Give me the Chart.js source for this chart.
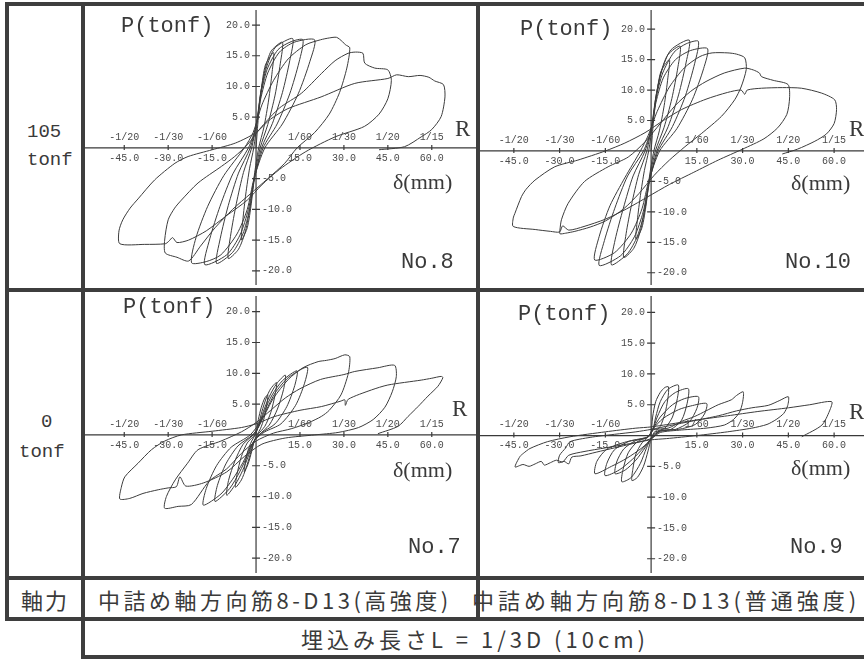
<!DOCTYPE html>
<html lang="ja">
<head>
<meta charset="utf-8">
<title>P-δ 履歴曲線</title>
<script src="https://cdn.jsdelivr.net/npm/chart.js"></script>
<style>
body { margin: 0; background: #fff; width: 864px; height: 659px; position: relative; overflow: hidden; }
.ln { position: absolute; background: #3e3e3e; }
.t { position: absolute; white-space: nowrap; line-height: 1; color: #3a3a3a; transform: translateY(-50%); }
.mono { font-family: "Liberation Mono", monospace; }
.serif { font-family: "Liberation Serif", serif; }
.jp { font-family: "Noto Sans CJK JP", sans-serif; font-size: 22px; letter-spacing: 4px; }
canvas { position: absolute; }
</style>
</head>
<body>

<!-- table frame -->
<div class="ln" style="left:5px;top:2px;width:859px;height:4px"></div>
<div class="ln" style="left:5px;top:288px;width:859px;height:4px"></div>
<div class="ln" style="left:5px;top:576px;width:859px;height:4px"></div>
<div class="ln" style="left:5px;top:617px;width:859px;height:4px"></div>
<div class="ln" style="left:81px;top:655px;width:783px;height:4px"></div>
<div class="ln" style="left:5px;top:2px;width:4px;height:619px"></div>
<div class="ln" style="left:81px;top:2px;width:4px;height:657px"></div>
<div class="ln" style="left:476px;top:2px;width:4px;height:619px"></div>

<canvas id="c8" width="391" height="282" style="left:85px;top:6px"></canvas>
<canvas id="c10" width="384" height="282" style="left:480px;top:6px"></canvas>
<canvas id="c7" width="391" height="284" style="left:85px;top:292px"></canvas>
<canvas id="c9" width="384" height="284" style="left:480px;top:292px"></canvas>

<div class="t mono" style="left:27px;top:132px;font-size:19px">105</div>
<div class="t mono" style="left:27px;top:160px;font-size:19px">tonf</div>
<div class="t mono" style="left:41px;top:422px;font-size:19px">0</div>
<div class="t mono" style="left:19px;top:452px;font-size:19px">tonf</div>

<div class="t mono" style="left:121px;top:27px;font-size:22px">P(tonf)</div>
<div class="t mono" style="left:520px;top:30px;font-size:22px">P(tonf)</div>
<div class="t mono" style="left:123px;top:308px;font-size:22px">P(tonf)</div>
<div class="t mono" style="left:518px;top:315px;font-size:22px">P(tonf)</div>

<div class="t serif" style="left:455px;top:128px;font-size:23px">R</div>
<div class="t serif" style="left:849px;top:128px;font-size:23px">R</div>
<div class="t serif" style="left:452px;top:408px;font-size:23px">R</div>
<div class="t serif" style="left:849px;top:411px;font-size:23px">R</div>

<div class="t serif" style="left:393px;top:182px;font-size:22px">δ(mm)</div>
<div class="t serif" style="left:791px;top:183px;font-size:22px">δ(mm)</div>
<div class="t serif" style="left:393px;top:470px;font-size:22px">δ(mm)</div>
<div class="t serif" style="left:791px;top:468px;font-size:22px">δ(mm)</div>

<div class="t mono" style="left:401px;top:263px;font-size:22px">No.8</div>
<div class="t mono" style="left:785px;top:263px;font-size:22px">No.10</div>
<div class="t mono" style="left:408px;top:548px;font-size:22px">No.7</div>
<div class="t mono" style="left:790px;top:548px;font-size:22px">No.9</div>

<div class="t jp" style="left:9px;width:72px;text-align:center;top:599px;letter-spacing:2px">軸力</div>
<div class="t jp" style="left:98px;top:599px;letter-spacing:3.5px">中詰め軸方向筋8-D13(高強度)</div>
<div class="t jp" style="left:472px;top:599px">中詰め軸方向筋8-D13(普通強度)</div>
<div class="t jp" style="left:301px;top:638px">埋込み長さL = 1/3D (10cm)</div>

<script>
// axis ticks
const dispTicks = [-45, -30, -15, 15, 30, 45, 60];
const driftLabels = ['-1/20', '-1/30', '-1/60', '1/60', '1/30', '1/20', '1/15'];
const loadTicks = [20, 15, 10, 5, -5, -10, -15, -20];

// No.8 : 105 tonf, 高強度  [δ(mm), P(tonf)]
const no8Curve = [
  [0,0],[0.8,5],[1.8,9.5],[3.2,13.5],[6,15.5],[5.5,12.4],[4.3,7.8],[2.7,3.4],[0.9,0],[-0.6,-4.5],[-1.6,-9],[-3,-13],[-5,-15],[-4.5,-11.7],[-3.5,-7.5],[-2.2,-3.3],[-0.8,0],
  [0.5,4.5],[1.6,9],[3.2,13],[5.2,15.8],[9,17.2],[8.3,13.8],[6.5,8.6],[4,3.8],[1.4,0],[-0.6,-4.8],[-2,-9.5],[-3.6,-13.5],[-6,-16.5],[-9.5,-18],[-8.6,-14],[-6.7,-9],[-4.3,-4],[-1.5,0],
  [0.3,4.5],[1.6,9],[3.5,13],[6.5,16.3],[12.5,17.8],[11.5,14.2],[9,9],[5.6,4],[1.9,0],[-0.5,-5],[-2.2,-10],[-4.5,-14],[-8,-17],[-13.5,-18.8],[-12.2,-14.7],[-9.5,-9.4],[-6,-4.1],[-2,0],
  [0.2,4],[1.6,8.6],[3.8,12.8],[7.5,16],[12,17.3],[16,17.6],[14.7,14],[11.5,8.8],[7.2,3.9],[2.4,0],[-0.6,-5],[-2.6,-10],[-5.5,-14.2],[-10,-17.4],[-17.5,-19],[-15.8,-14.8],[-12.3,-9.5],[-7.9,-4.2],[-2.6,0],
  [0,3.5],[1.6,8],[4,12.2],[8,15.6],[13,17.2],[20,17.6],[18.4,14.1],[14.4,8.8],[9,3.9],[3,0],[-0.7,-5],[-3,-10],[-6.5,-14],[-12,-17.4],[-17,-18.5],[-22,-18.7],[-20.5,-14.6],[-16.5,-9.5],[-11,-4.5],[-4,0],
  [-1,2.5],[2,7],[6,11],[11,14.5],[17,16.8],[22,17.6],[25,17.9],[27.5,18],[29.5,17.3],[30.5,16.8],[32,16.3],
  [31,13],[28.5,9],[25,5.5],[20,2.5],[14,0],[9.8,-2.5],[4,-5],[-2,-7.5],[-8,-10],[-14,-13],[-19,-16],[-23,-18.4],[-27,-17.8],[-31,-17.1],
  [-31.2,-15],[-30,-11.7],[-27.8,-9.8],[-25.5,-8.5],[-19.8,-5.7],[-11.8,-3],[-7.3,-1.4],[-3,0.5],[2,3.5],[8,6.5],[15.5,8.9],[22.3,12.1],[27,14.2],[31.4,15.4],[34,15.6],[36.5,15.4],[37.1,13.8],[40.5,13],[45,12.7],[46.2,11],
  [45,8],[42,5.5],[37,3.5],[27,1.8],[17,-0.6],[8,-3.5],[2,-6],[-3,-8.5],[-10,-11],[-17,-13.5],[-23,-15],[-27,-15.4],[-28.5,-14.6],[-29.8,-15.2],[-31,-15.6],[-38,-15.7],[-46.5,-15.6],
  [-46.8,-13.5],[-45.5,-11.7],[-43,-9.8],[-40.3,-8.3],[-34.6,-5.2],[-27.7,-2.5],[-23.2,-1.4],[-15,-0.3],[-7,0.8],[0,2.5],[5,4.7],[10.9,6.4],[22.2,8.3],[33.7,10.5],[45,11.3],[48,11.9],[52,11.6],[56,11.8],[59,11.5],[61,10.9],[64,10.3],[64.5,8.3],
  [63.2,5.1],[60,3],[56.4,1.8],[50.7,0.2],[42,-0.3]
];

// No.10 : 105 tonf, 普通強度
const no10Curve = [
  [0,0],[0.8,5],[1.8,9.2],[3.2,13],[6,15],[5.5,12],[4.3,7.5],[2.7,3.3],[0.9,0],[-0.6,-4.4],[-1.6,-8.7],[-3,-12.6],[-5,-14.5],[-4.5,-11.3],[-3.5,-7.3],[-2.2,-3.2],[-0.8,0],
  [0.5,4.5],[1.6,9],[3.3,13],[5.5,15.8],[9.5,17.2],[8.8,13.8],[6.8,8.6],[4.2,3.8],[1.4,0],[-0.6,-4.7],[-2,-9.2],[-3.5,-13.1],[-5.7,-16],[-9,-17.5],[-8.2,-13.6],[-6.4,-8.8],[-4.1,-3.9],[-1.4,0],
  [0.3,4.5],[1.6,9],[3.5,13.2],[6.5,16.6],[12.5,18.2],[11.5,14.6],[9,9.2],[5.6,4],[1.9,0],[-0.5,-5],[-2.2,-10],[-4.5,-14],[-7.8,-16.9],[-13,-18.7],[-11.8,-14.6],[-9.1,-9.4],[-5.9,-4.1],[-2,0],
  [0.2,4],[1.6,8.6],[3.8,12.8],[7.5,16.2],[11.5,17.6],[15.5,18],[14.3,14.4],[11.2,9],[7,4],[2.3,0],[-0.6,-5],[-2.6,-10],[-5.5,-14.1],[-10,-17.2],[-17,-18.8],[-15.3,-14.7],[-11.9,-9.4],[-7.7,-4.1],[-2.5,0],
  [0,3.5],[1.6,8],[4,12],[8,15],[13,16.5],[18.5,16.8],[17.2,13.5],[13.5,8.4],[8.5,3.7],[2.8,0],[-0.7,-4.8],[-3,-9.5],[-6.5,-13.5],[-12,-16.7],[-18.5,-17.9],[-17,-14],[-13.5,-9],[-8.5,-4.3],[-3.5,0],
  [-1,2.5],[2,6.5],[6,10.5],[11,13.7],[16,15.5],[20,16.1],[25.2,16.1],[28,15.9],[30.7,15.3],[31.2,13.4],
  [29.5,10.5],[27.4,8.4],[23.1,5.7],[16.6,2.9],[11.1,0.7],[6,-1.5],[1,-4],[-4,-7],[-9,-9.5],[-15,-11.5],[-20,-12.5],[-25,-13.2],[-28,-13.5],[-29.9,-13.6],
  [-29.9,-13],[-29.4,-11.3],[-27.2,-8.6],[-21.8,-5],[-14.1,-2.6],[-7.5,-1],[-2,1.5],[3,4.5],[8,7.5],[13,9.8],[18,11.4],[24,12.8],[30.7,13.6],[33.5,13.3],[35.5,12.8],[36.2,12.2],[40,11.6],[44.9,10.9],[45.4,8.7],
  [44.5,6],[41.5,3.8],[37,2],[30,0.3],[22,-1.5],[14,-3.5],[6,-5.5],[-1,-7.5],[-8,-9.5],[-15,-11.2],[-22,-12.4],[-27,-13],[-29,-12.3],[-30,-13.3],[-33,-13.2],[-38,-12.9],[-45.2,-12.4],
  [-45.2,-11],[-44.7,-10.3],[-42.5,-7.5],[-41,-6.3],[-38.1,-4.8],[-31.6,-2.6],[-24,-1.5],[-15,0],[-8.6,1.3],[-2,3],[4,5],[10,6.8],[18,8.5],[25,9.6],[29.5,10],[30.7,9.3],[31.5,10],[36.2,10.3],[43,10.4],[49.3,10.3],[55.9,9.5],[60.2,8.4],[60.8,6.8],
  [60,4.5],[57.5,2.8],[53.7,1.6],[48,0.3],[43,-0.5]
];

// No.7 : 0 tonf, 高強度
const no7Curve = [
  [0,0],[0.8,2.5],[1.8,4.5],[3,6],[4,6.5],[3.7,5],[2.8,2.8],[1.5,1],[0.3,0],[-0.6,-1],[-1.5,-2.7],[-2.7,-4.7],[-4,-6],[-3.7,-4.6],[-2.8,-2.6],[-1.5,-1],[-0.3,0],
  [0.8,1.5],[2,3.8],[3.5,6],[5,7.5],[7,8.5],[6.5,6.5],[5,3.6],[3,1.4],[0.5,0],[-0.8,-1.2],[-2,-3.2],[-3.5,-5.5],[-5,-7.3],[-7,-8.5],[-6.5,-6.4],[-5,-3.5],[-3,-1.3],[-0.5,0],
  [1,1.6],[2.5,3.8],[4.5,6.2],[7,8.3],[10,9.7],[9.4,7.4],[7.3,4.2],[4.5,1.6],[1,0],[-1,-1.3],[-2.6,-3.4],[-4.6,-5.8],[-7,-8],[-10,-9.8],[-9.4,-7.4],[-7.2,-4.2],[-4.4,-1.5],[-1,0],
  [1,1.5],[3,4],[5.5,6.5],[9,8.8],[14,10.4],[13.2,8],[10.5,4.6],[6.5,1.8],[1.5,0.2],[-1,-1.2],[-3,-3.4],[-5.6,-6],[-9,-8.7],[-14,-10.8],[-13.2,-8.2],[-10.3,-4.7],[-6.2,-1.8],[-1.2,0],
  [1,1.4],[3.5,4],[6.5,6.8],[11,9.3],[17.5,11],[16.5,8.3],[13.5,4.8],[8.5,1.8],[3,0.5],[0,-0.6],[-2,-2],[-4.5,-4.5],[-8,-7.2],[-12,-9.6],[-18,-11.4],[-17,-8.7],[-13.5,-5],[-8.5,-2],[-2,0],
  [2,2.5],[6,6],[11,9],[16,10.9],[21.2,11.9],[24,12.1],[27,12.4],[30.3,13],[32,12.7],
  [31.5,10],[29,6.5],[25,4],[22.3,3],[18,2],[12,1],[6,0.3],[0,-1],[-5,-3],[-10,-5.5],[-16,-7.5],[-22.1,-11.3],[-26.6,-11.6],[-31.2,-11.9],
  [-30.6,-10],[-27.6,-7.3],[-23.4,-4.6],[-19.8,-2.4],[-12,-1],[-5,0.5],[0,2],[5,4],[10,6],[15,7.5],[22,9],[30,9.8],[33.7,10.3],[41.6,10.9],[47.3,11.3],[47.9,9.5],
  [46.5,7],[44,4.5],[40,2.5],[35,1.2],[28,0.4],[20,0],[10,-0.5],[2,-1.5],[-4,-3.5],[-10,-6],[-18,-7.8],[-24,-8.3],[-26,-6.8],[-27.2,-8.4],[-30,-8.6],[-33.4,-8.9],[-38.6,-9.5],[-43.1,-10.3],[-46.5,-10.4],
  [-46,-8.5],[-44.8,-6.8],[-40.3,-4.6],[-35.7,-2.4],[-31.2,-1],[-25.5,0],[-15,0.6],[-5,1.2],[0,1.8],[6.4,3],[15,4],[22.3,4.6],[29,5.5],[30.3,5.7],[30.5,4.8],[31.5,5.8],[39.4,7.3],[45,8.1],[56.4,8.9],[60,9.2],[63.2,9.5],[63.8,9.3],
  [62.1,7.9],[58.7,6.3],[55.3,4.6],[51.9,3],[48.5,1.4],[41.6,0.2]
];

// No.9 : 0 tonf, 普通強度
const no9Curve = [
  [0,0],[0.5,3],[1.5,5.5],[3,7],[4.5,7.8],[5.7,7.9],[5.5,6],[4.5,3.5],[3,1.5],[1,0.5],[0,-0.5],[-1,-2.5],[-2.5,-5],[-4.5,-6.8],[-6.3,-7.3],[-6,-5.5],[-5,-3],[-3,-1.2],[-1,-0.2],[0.5,0.8],
  [1.5,3],[3,5.5],[5.5,7.5],[8.9,8.2],[8.6,6],[7,3],[4.5,1.2],[1.5,0.6],[0,-0.4],[-1.5,-2],[-3.5,-4.5],[-6.5,-6.8],[-9.6,-7.5],[-9.2,-5.5],[-7.5,-2.8],[-4.5,-1],[-1,-0.2],[0.5,0.9],
  [2,3],[4.5,5.5],[8,7],[12.2,7.6],[11.8,5.2],[10,2.5],[6.5,1],[2,0.6],[0,-0.5],[-2,-2],[-5,-4],[-8.5,-5.6],[-11.8,-6.2],[-11.3,-4.3],[-9,-2.2],[-5,-0.8],[-1,-0.2],[0.5,1],
  [3,3],[7,5],[11,6],[15.5,6.3],[15,4.4],[12.5,2.2],[8,1],[3,0.7],[0,-0.6],[-2.5,-2],[-6,-3.8],[-10.5,-5.6],[-15.1,-6.5],[-14.5,-4.5],[-12,-2.3],[-7,-0.9],[-1,-0.2],[0.5,1],
  [4,2.8],[9,4.2],[13,4.8],[18.2,5.2],[17.5,3.5],[14.5,1.8],[9,1],[3,0.8],[0,-0.6],[-3,-2],[-8,-3.7],[-13,-5],[-18.4,-6.2],[-17.8,-4.2],[-14.5,-2.2],[-8,-1],[-1,-0.3],[0.5,0.9],
  [5.6,1.2],[10,2.3],[14.3,3.1],[18,4],[22,5],[26.3,5.8],[28,6.5],[30.2,7.1],[30,5.4],[29,3.8],[27,2.6],[24,1.7],[18,1.2],[10,0.9],[3,0.5],[0,-0.5],
  [-6,-1.3],[-12,-2],[-18,-2.7],[-23,-3.3],[-26,-3.5],[-27,-4.6],[-28.5,-4.2],[-30.4,-4.4],
  [-30,-3.2],[-28,-2],[-26.6,-1],[-20,-0.3],[-12,0.2],[-5,0.6],[0,1],
  [6,1.6],[14,2.4],[22,3.2],[28,4],[33,4.5],[38.4,4.9],[42.2,5.7],[45,6.3],[44.8,4.9],
  [43.5,3.6],[41,2.6],[38,1.8],[33,1.2],[25,0.6],[15,0],[5,-0.5],[0,-0.7],
  [-8,-1.4],[-15,-2],[-22,-2.6],[-27,-3.2],[-29,-4.3],[-31,-4],[-33,-4.4],[-35,-4.8],[-36,-4.2],[-38,-4.6],[-40,-5],[-42,-4.7],[-44.6,-5.1],
  [-43,-3.4],[-41.9,-2.9],[-39.7,-2.1],[-34,-1],[-26.6,-0.2],[-15,0.6],[-5,1.2],[0,1.4],
  [8,2],[16,2.6],[25,3.2],[35,3.9],[45,4.5],[52,5],[59.2,5.5],[58.5,4],[56,1.7],[49.4,-0.2]
];

// axes crossing at the origin, drawn through the chart scales
const crossAxes = {
  id: 'crossAxes',
  beforeDatasetsDraw(chart) {
    const { ctx, chartArea, scales } = chart;
    const x0 = scales.x.getPixelForValue(0);
    const y0 = scales.y.getPixelForValue(0);
    ctx.save();
    ctx.strokeStyle = '#3a3a3a';
    ctx.lineWidth = 1.2;
    ctx.beginPath();
    ctx.moveTo(chartArea.left, y0);
    ctx.lineTo(chartArea.right, y0);
    ctx.moveTo(x0, chartArea.top + 4);
    ctx.lineTo(x0, chartArea.bottom - 3);
    dispTicks.forEach(v => {
      const p = scales.x.getPixelForValue(v);
      ctx.moveTo(p, y0 - 3);
      ctx.lineTo(p, y0 + 2);
    });
    loadTicks.forEach(v => {
      const p = scales.y.getPixelForValue(v);
      ctx.moveTo(x0 - 4, p);
      ctx.lineTo(x0 + 4, p);
    });
    ctx.stroke();

    ctx.fillStyle = '#4a4a4a';
    ctx.font = '10px "Liberation Mono"';
    ctx.textBaseline = 'middle';
    ctx.textAlign = 'center';
    dispTicks.forEach((v, i) => {
      const p = scales.x.getPixelForValue(v);
      ctx.fillText(v.toFixed(1), p, y0 + 10);
      ctx.fillText(driftLabels[i], p, y0 - 11);
    });
    loadTicks.forEach(v => {
      const p = scales.y.getPixelForValue(v);
      ctx.textAlign = v > 0 ? 'right' : 'left';
      ctx.fillText(v.toFixed(1), v > 0 ? x0 - 6 : x0 + 6, p);
    });
    ctx.restore();
  }
};

function drawPanel(id, curve, xMin, xMax, yMin, yMax) {
  new Chart(document.getElementById(id), {
    type: 'scatter',
    data: {
      datasets: [{
        data: curve.map(p => ({ x: p[0], y: p[1] })),
        showLine: true,
        borderColor: '#3c3c3c',
        borderWidth: 1,
        pointRadius: 0,
        tension: 0.25
      }]
    },
    options: {
      responsive: false,
      animation: false,
      layout: { padding: 0 },
      scales: {
        x: { type: 'linear', display: false, min: xMin, max: xMax },
        y: { type: 'linear', display: false, min: yMin, max: yMax }
      },
      plugins: { legend: { display: false }, tooltip: { enabled: false } }
    },
    plugins: [crossAxes]
  });
}

drawPanel('c8', no8Curve, -58.4, 75.1, -22.8, 23.1);
drawPanel('c10', no10Curve, -56.1, 69.8, -22.5, 23.8);
drawPanel('c7', no7Curve, -58.4, 75.1, -22.9, 23.2);
drawPanel('c9', no9Curve, -56.1, 69.8, -22.8, 23.3);
</script>
</body>
</html>
